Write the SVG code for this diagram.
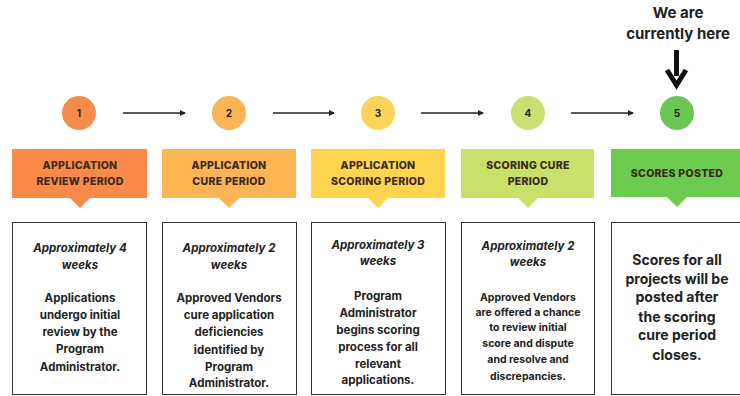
<svg xmlns="http://www.w3.org/2000/svg" width="740" height="396" viewBox="0 0 740 396">
<defs>
<marker id="ah" viewBox="0 0 6 6" refX="5" refY="3" markerWidth="6" markerHeight="6" markerUnits="userSpaceOnUse" orient="auto">
<path d="M0,0 L6,3 L0,6 Z" fill="#222"/>
</marker>
</defs>
<style>
text{font-family:Inter,"Liberation Sans",Arial,sans-serif;font-weight:700;fill:#222;text-anchor:middle}
.num{font-size:10px}
.hd{font-size:10.5px;font-weight:800;fill:#3a2a1c;letter-spacing:0.3px}
.it{font-style:italic;font-size:11.5px}
.bd{font-size:11.5px}
.sm{font-size:10.5px}
.lg{font-size:14px}
.big{font-size:15px}
.card{fill:#fff;stroke:#333;stroke-width:1}
.conn{stroke:#222;stroke-width:1.3;fill:none}
</style>
<rect width="740" height="396" fill="#fff"/>
<g id="connectors">
<line class="conn" x1="123" y1="113" x2="185" y2="113" marker-end="url(#ah)"/>
<line class="conn" x1="273" y1="113" x2="334" y2="113" marker-end="url(#ah)"/>
<line class="conn" x1="421" y1="113" x2="483" y2="113" marker-end="url(#ah)"/>
<line class="conn" x1="571" y1="113" x2="633" y2="113" marker-end="url(#ah)"/>
</g>
<g id="here">
<text class="big" x="678" y="18">We are</text>
<text class="big" x="678" y="39">currently here</text>
<rect x="674" y="50" width="5" height="26" fill="#111"/>
<path d="M667,70 L676.5,85 L686,70" fill="none" stroke="#111" stroke-width="5" stroke-linejoin="miter"/>
</g>
<g id="step1">
<circle cx="79" cy="113" r="17" fill="#F68C4A"/>
<text class="num" x="79" y="117">1</text>
<path d="M12,149 H147 V198 H90 L80,208 L70,198 H12 Z" fill="#FA8A4A"/>
<text class="hd" x="80" y="169">APPLICATION</text>
<text class="hd" x="80" y="185">REVIEW PERIOD</text>
<rect class="card" x="12.5" y="222.5" width="134" height="172"/>
<text class="it" x="80" y="252">Approximately 4</text>
<text class="it" x="80" y="269">weeks</text>
<text class="bd" x="80" y="302">Applications</text>
<text class="bd" x="80" y="319">undergo initial</text>
<text class="bd" x="80" y="336">review by the</text>
<text class="bd" x="80" y="353">Program</text>
<text class="bd" x="80" y="371">Administrator.</text>
</g>
<g id="step2">
<circle cx="229" cy="113" r="17" fill="#F9B555"/>
<text class="num" x="229" y="117">2</text>
<path d="M162,149 H296 V198 H239 L229,208 L219,198 H162 Z" fill="#FDB553"/>
<text class="hd" x="229" y="169">APPLICATION</text>
<text class="hd" x="229" y="185">CURE PERIOD</text>
<rect class="card" x="162.5" y="222.5" width="134" height="172"/>
<text class="it" x="229" y="252">Approximately 2</text>
<text class="it" x="229" y="269">weeks</text>
<text class="bd" x="229" y="302">Approved Vendors</text>
<text class="bd" x="229" y="319">cure application</text>
<text class="bd" x="229" y="336">deficiencies</text>
<text class="bd" x="229" y="354">identified by</text>
<text class="bd" x="229" y="371">Program</text>
<text class="bd" x="229" y="387">Administrator.</text>
</g>
<g id="step3">
<circle cx="378" cy="113" r="17" fill="#FDD35A"/>
<text class="num" x="378" y="117">3</text>
<path d="M311,149 H445 V198 H388 L378,208 L368,198 H311 Z" fill="#FFD550"/>
<text class="hd" x="378" y="169">APPLICATION</text>
<text class="hd" x="378" y="185">SCORING PERIOD</text>
<rect class="card" x="311.5" y="222.5" width="134" height="172"/>
<text class="it" x="378" y="249">Approximately 3</text>
<text class="it" x="378" y="265">weeks</text>
<text class="bd" x="378" y="300">Program</text>
<text class="bd" x="378" y="317">Administrator</text>
<text class="bd" x="378" y="334">begins scoring</text>
<text class="bd" x="378" y="351">process for all</text>
<text class="bd" x="378" y="368">relevant</text>
<text class="bd" x="378" y="384">applications.</text>
</g>
<g id="step4">
<circle cx="528" cy="113" r="17" fill="#C8DF72"/>
<text class="num" x="528" y="117">4</text>
<path d="M461,149 H594 V198 H538 L528,208 L518,198 H461 Z" fill="#C9E06B"/>
<text class="hd" x="528" y="169">SCORING CURE</text>
<text class="hd" x="528" y="185">PERIOD</text>
<rect class="card" x="461.5" y="222.5" width="133" height="172"/>
<text class="it" x="528" y="250">Approximately 2</text>
<text class="it" x="528" y="266">weeks</text>
<text class="sm" x="528" y="301">Approved Vendors</text>
<text class="sm" x="528" y="316">are offered a chance</text>
<text class="sm" x="528" y="331">to review initial</text>
<text class="sm" x="528" y="347">score and dispute</text>
<text class="sm" x="528" y="363">and resolve and</text>
<text class="sm" x="528" y="380">discrepancies.</text>
</g>
<g id="step5">
<circle cx="677" cy="113" r="17" fill="#6CC653"/>
<text class="num" x="677" y="117">5</text>
<path d="M611,149 H742 V197 H687 L677,207 L667,197 H611 Z" fill="#6DCC4F"/>
<text class="hd" x="677" y="177">SCORES POSTED</text>
<rect class="card" x="611.5" y="222.5" width="132" height="172"/>
<text class="lg" x="677" y="265">Scores for all</text>
<text class="lg" x="677" y="284">projects will be</text>
<text class="lg" x="677" y="302">posted after</text>
<text class="lg" x="677" y="322">the scoring</text>
<text class="lg" x="677" y="340">cure period</text>
<text class="lg" x="677" y="360">closes.</text>
</g>
</svg>
